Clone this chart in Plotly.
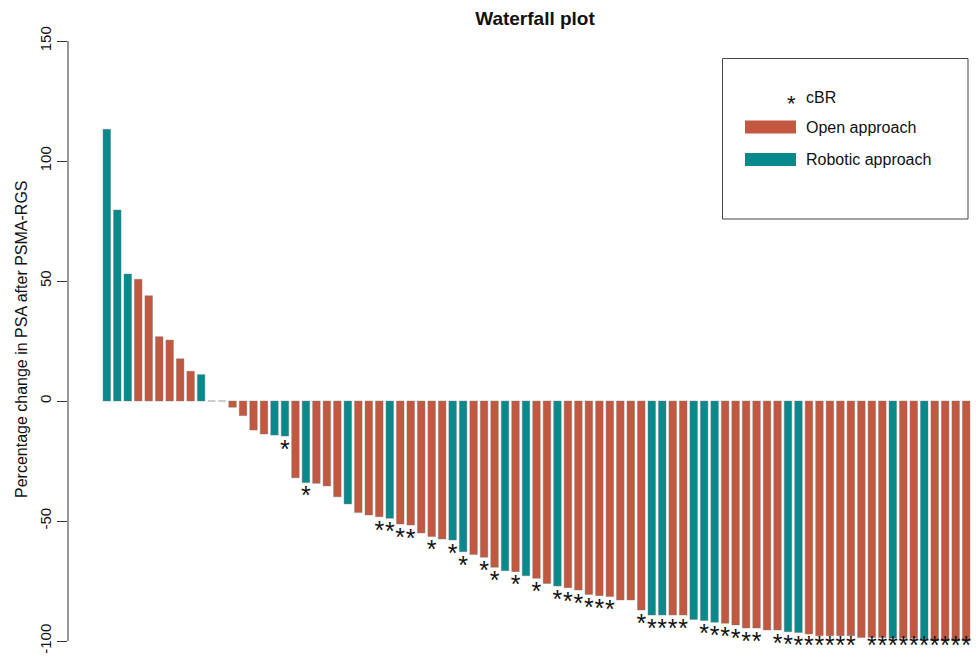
import plotly.graph_objects as go

# ---- data ----
values = [113.2, 79.6, 52.9, 50.7, 43.9, 26.8, 25.4, 17.6, 12.4, 11.0,
          0.0, 0.0, -2.6, -6.1, -12.1, -13.75, -14.2, -14.6, -32.0, -34.0,
          -34.3, -35.4, -39.9, -42.9, -46.5, -47.5, -48.2, -48.9, -51.25, -51.7,
          -55.0, -56.5, -57.5, -57.9, -62.8, -64.0, -65.1, -69.3, -70.7, -71.1,
          -72.8, -73.9, -76.0, -77.1, -77.8, -78.75, -80.6, -81.1, -81.5, -82.9,
          -82.9, -87.1, -89.2, -89.2, -89.2, -89.2, -91.0, -91.5, -92.2, -92.6,
          -93.3, -94.6, -94.6, -95.4, -95.4, -96.1, -96.5, -97.1, -97.8, -97.8,
          -97.8, -97.8, -98.5, -98.5, -98.5, -98.9, -98.9, -98.9, -99.3, -99.9,
          -100.0, -100.0, -100.0]
# R = robotic approach, O = open approach (one letter per bar)
approach = list("RRROOOOOOR"
                "OOOOOORROR"
                "OOOROOOROO"
                "OOORROOORO"
                "ROOROOOOOO"
                "OORROORRRO"
                "OOOOORROOO"
                "OOOOOROORO"
                "OOO")
# bars (1-based) with complete biochemical response (cBR)
cbr_idx = [18, 20, 27, 28, 29, 30, 32, 34, 35, 37, 38, 40, 42, 44, 45, 46, 47, 48, 49,
           52, 53, 54, 55, 56, 58, 59, 60, 61, 62, 63,
           65, 66, 67, 68, 69, 70, 71, 72,
           74, 75, 76, 77, 78, 79, 80, 81, 82, 83]

y_ticks = [-100, -50, 0, 50, 100, 150]
title = "Waterfall plot"
y_title = "Percentage change in PSA after PSMA-RGS"
legend_labels = ["cBR", "Open approach", "Robotic approach"]

ORANGE = "#C1583F"
TEAL = "#088A8C"
FONT = "Liberation Sans, Arial, sans-serif"

n = len(values)
x = list(range(n))
colors = [TEAL if a == "R" else ORANGE for a in approach[:n]]

fig = go.Figure()
fig.add_trace(go.Bar(
    x=x, y=values, width=0.72,
    marker=dict(color=colors, line=dict(color="rgba(120,120,120,0.7)", width=0.6)),
    showlegend=False, hoverinfo="y"))

# star labels sit just below each bar, kept inside the figure at the bottom
star_x = [i - 1 for i in cbr_idx]
star_y = [max(values[i - 1] - 6.5, -103.0) for i in cbr_idx]
fig.add_trace(go.Scatter(
    x=star_x, y=star_y, mode="text", text=["*"] * len(star_x),
    textposition="middle center",
    textfont=dict(family=FONT, size=25, color="#111111"),
    cliponaxis=False, showlegend=False, hoverinfo="skip"))

W, H = 976, 662
Y_LO, Y_HI = -107.5, 150
px_per_unit_y = 2.4
L, R, T = 68, 0, 41
B = H - T - (Y_HI - Y_LO) * px_per_unit_y
pw = W - L - R
ph = H - T - B
px_per = 10.48
x0 = -(106.8 - L) / px_per
x1 = x0 + pw / px_per

fig.update_layout(
    width=W, height=H,
    margin=dict(l=L, r=R, t=T, b=B, autoexpand=False),
    paper_bgcolor="white", plot_bgcolor="white",
    font=dict(family=FONT, size=15, color="#111111"),
    title=dict(text="<b>%s</b>" % title, x=535 / W, xanchor="center",
               y=1 - 18 / H, yanchor="middle",
               font=dict(family=FONT, size=19, color="#111111")),
    xaxis=dict(range=[x0, x1], visible=False, fixedrange=True),
    yaxis=dict(range=[Y_LO, Y_HI], tickvals=y_ticks, ticktext=[str(v) for v in y_ticks],
               showline=False,
               ticks="outside", ticklen=10, tickcolor="#333333", tickwidth=1,
               tickangle=-90, showgrid=False, zeroline=False,
               tickfont=dict(family=FONT, size=15, color="#111111"),
               automargin=False, fixedrange=True),
)

# base-R style axis line spanning only the tick range
fig.add_shape(type="line", xref="paper", yref="y", x0=0, x1=0,
              y0=min(y_ticks), y1=max(y_ticks), line=dict(color="#333333", width=1))

def px2x(p):
    return (p - L) / pw

def py2y(p):
    return 1 - (p - T) / ph

# y-axis title as annotation
fig.add_annotation(text=y_title, xref="paper", yref="paper", x=px2x(22),
                   y=py2y(339), textangle=-90, showarrow=False,
                   xanchor="center", yanchor="middle",
                   font=dict(family=FONT, size=16, color="#111111"))

# legend (drawn manually to match the boxed base-R legend)
fig.add_shape(type="rect", xref="paper", yref="paper",
              x0=px2x(722.5), x1=px2x(968), y0=py2y(219), y1=py2y(58.5),
              line=dict(color="#444444", width=1), fillcolor="white")
fig.add_shape(type="rect", xref="paper", yref="paper",
              x0=px2x(745), x1=px2x(796), y0=py2y(133.5), y1=py2y(120.5),
              line=dict(width=0), fillcolor=ORANGE)
fig.add_shape(type="rect", xref="paper", yref="paper",
              x0=px2x(745), x1=px2x(796), y0=py2y(166), y1=py2y(153),
              line=dict(width=0), fillcolor=TEAL)
fig.add_annotation(text="*", xref="paper", yref="paper", x=px2x(791), y=py2y(103),
                   showarrow=False, xanchor="center", yanchor="middle",
                   font=dict(family=FONT, size=22, color="#111111"))
for lab, yy in zip(legend_labels, [97, 127, 159]):
    fig.add_annotation(text=lab, xref="paper", yref="paper", x=px2x(804), y=py2y(yy),
                       showarrow=False, xanchor="left", yanchor="middle",
                       font=dict(family=FONT, size=16, color="#111111"))

fig.write_html("out.html", config={"displayModeBar": False},
               post_script="document.body.style.margin='0px';document.body.style.overflow='hidden';")
